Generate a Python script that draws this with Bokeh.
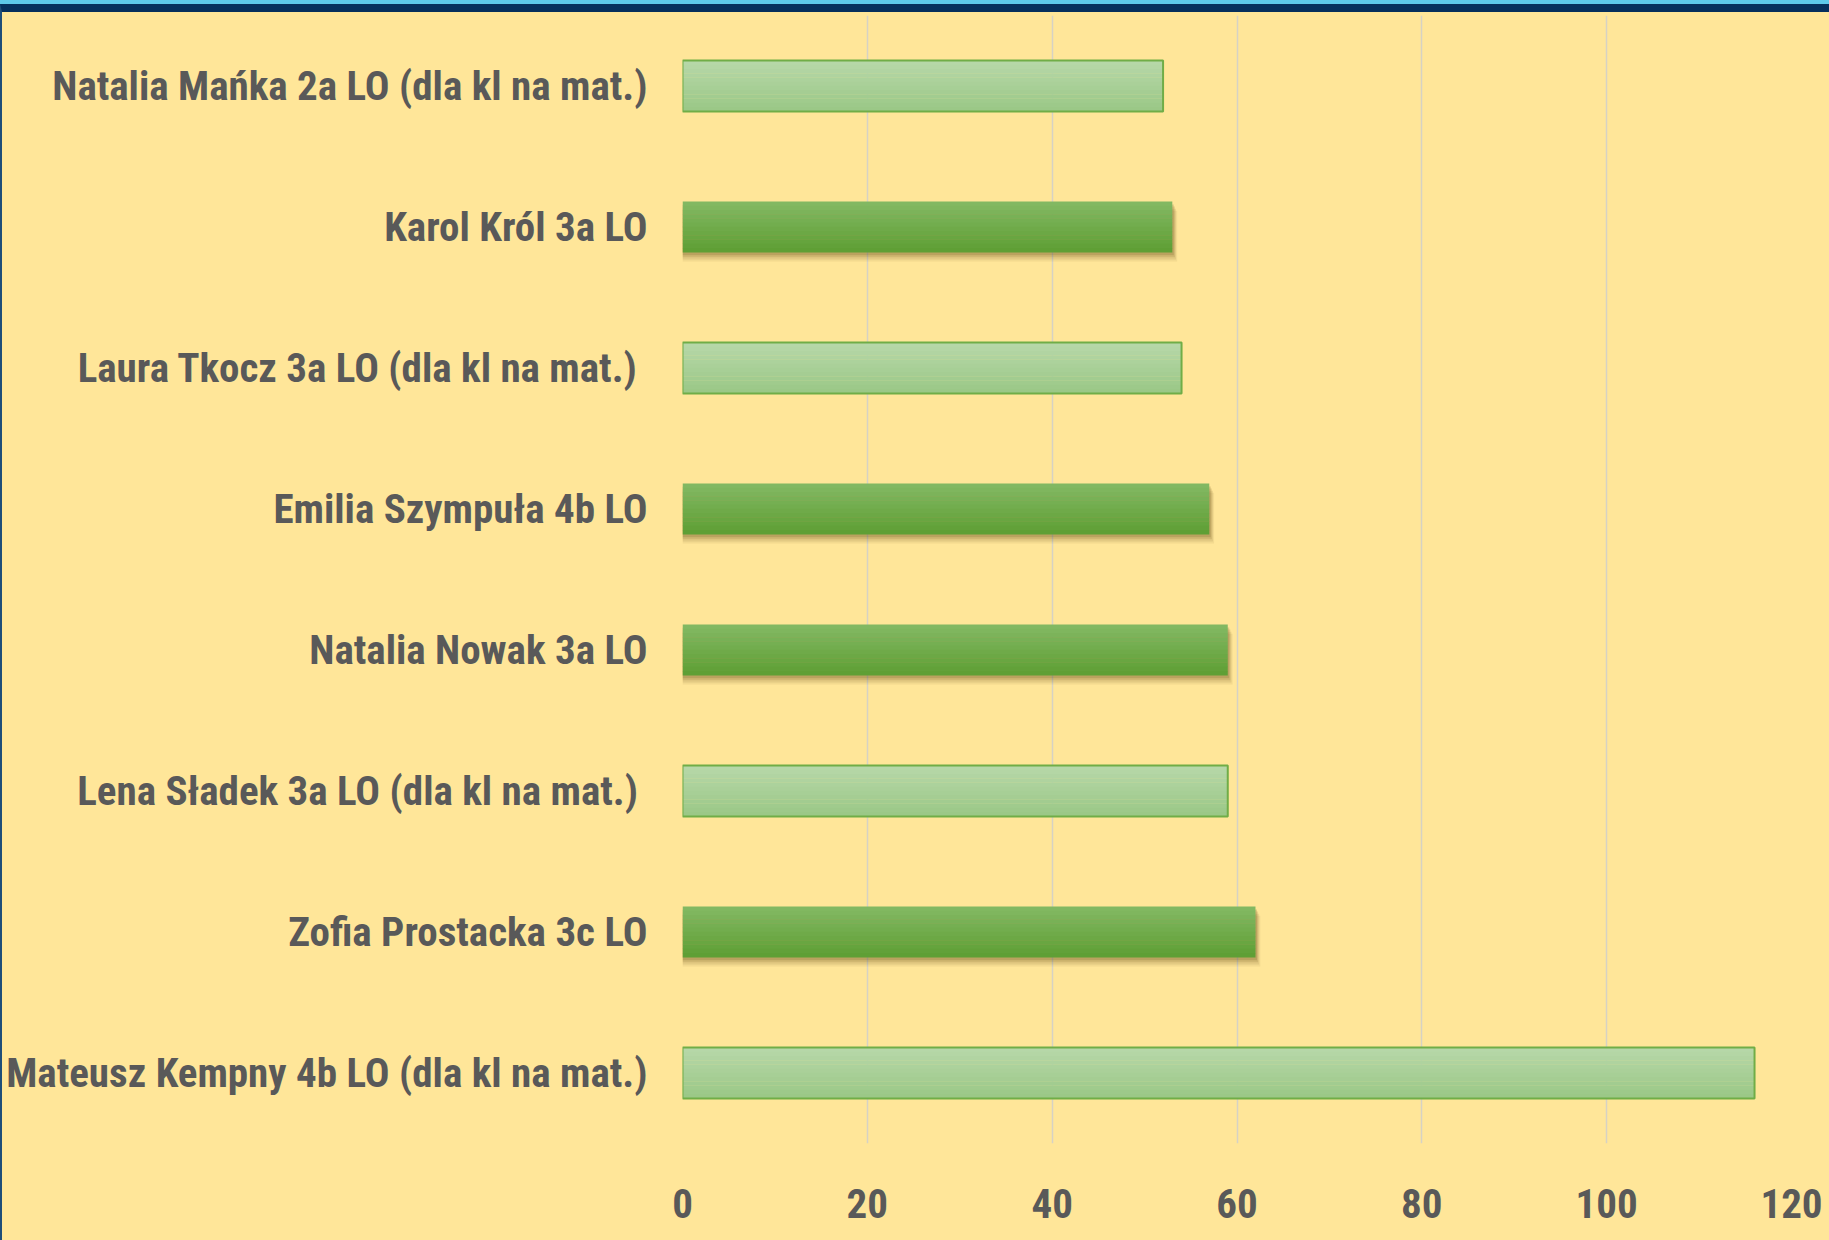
import re
from bokeh.plotting import figure
from bokeh.models import ColumnDataSource, FactorRange, Range1d, FixedTicker
from bokeh.transform import dodge
from bokeh.embed import file_html
from bokeh.resources import INLINE

# ---- data ----
categories = [
    "Natalia Mańka 2a LO (dla kl na mat.)",
    "Karol Król 3a LO",
    "Laura Tkocz 3a LO  (dla kl na mat.)",
    "Emilia Szympuła 4b LO",
    "Natalia Nowak 3a LO",
    "Lena Sładek 3a LO  (dla kl na mat.)",
    "Zofia Prostacka 3c LO",
    "Mateusz Kempny 4b LO (dla kl na mat.)",
]
values = [52, 53, 54, 57, 59, 59, 62, 116]
math_class = [True, False, True, False, False, True, False, True]
x_ticks = [0, 20, 40, 60, 80, 100, 120]

BG = "#FFE699"
FONT = "Roboto Condensed, DejaVu Sans Condensed"
TXT = "#595959"

W, H = 1827, 1228
p = figure(
    width=W, height=H,
    y_range=FactorRange(*list(reversed(categories)), range_padding=0),
    x_range=Range1d(0, 120),
    output_backend="svg", toolbar_location=None,
    background_fill_color=BG, border_fill_color=BG,
    min_border_left=680, min_border_right=38, min_border_top=3, min_border_bottom=97,
)
p.outline_line_color = None
p.ygrid.grid_line_color = None
p.xgrid.grid_line_color = "#d6d2c4"
p.xgrid.grid_line_width = 1.5
p.xaxis.ticker = FixedTicker(ticks=x_ticks)

for ax in (p.xaxis, p.yaxis):
    ax.axis_line_color = None
    ax.major_tick_line_color = None
    ax.minor_tick_line_color = None
    ax.major_tick_out = 0
    ax.major_tick_in = 0
    ax.major_label_text_font = FONT
    ax.major_label_text_font_style = "bold"
    ax.major_label_text_font_size = "41px"
    ax.major_label_text_color = TXT
p.yaxis.major_label_standoff = 35
p.xaxis.major_label_standoff = 45

light_cats = [c for c, m in zip(categories, math_class) if m]
light_vals = [v for v, m in zip(values, math_class) if m]
dark_cats = [c for c, m in zip(categories, math_class) if not m]
dark_vals = [v for v, m in zip(values, math_class) if not m]

src_l = ColumnDataSource(dict(cat=light_cats, val=light_vals))
src_d = ColumnDataSource(dict(cat=dark_cats, val=dark_vals))

BH = 0.36

# soft shadow for dark bars
for k, a in [(0.065, 0.07), (0.05, 0.10), (0.035, 0.14), (0.02, 0.18)]:
    p.hbar(y=dodge("cat", -k, range=p.y_range), left=0, right=dodge("val", k * 8, range=p.x_range),
           height=BH, source=src_d, fill_color="#5a4410", fill_alpha=a, line_color=None)


def lerp(c1, c2, t):
    a = [int(c1[i:i + 2], 16) for i in (1, 3, 5)]
    b = [int(c2[i:i + 2], 16) for i in (1, 3, 5)]
    return "#%02x%02x%02x" % tuple(round(a[j] + (b[j] - a[j]) * t) for j in range(3))


N = 12
for i in range(N):
    t = i / (N - 1)
    off = BH / 2 - (i + 0.5) * BH / N
    p.hbar(y=dodge("cat", off, range=p.y_range), left=0, right="val", height=BH / N + 0.002,
           source=src_l, fill_color=lerp("#b6d7a8", "#9bc887", t), line_color=None)
    p.hbar(y=dodge("cat", off, range=p.y_range), left=0, right="val", height=BH / N + 0.002,
           source=src_d, fill_color=lerp("#82b862", "#5f9f35", t), line_color=None)

# border of light bars
p.hbar(y="cat", left=0, right="val", height=BH, source=src_l,
       fill_color=None, line_color="#70ad47", line_width=2)

html = file_html(p, INLINE)
style = ("<style>html{border-top:4px solid #5ec8e9;background:#FFE699}"
         "body{margin:0;border-top:8px solid #062f5c;border-left:2px solid #1f4e79;background:#FFE699}</style>")
html = html.replace("</head>", style + "</head>", 1)
open("out.html", "w").write(html)
